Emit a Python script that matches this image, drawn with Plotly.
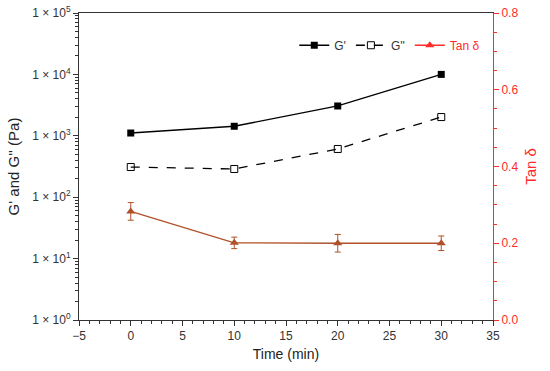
import plotly.graph_objects as go

time = [0, 10, 20, 30]
g_storage = [1110, 1430, 3060, 10000]
g_loss = [310, 288, 610, 2020]
tan_delta = [0.283, 0.201, 0.200, 0.200]
tan_err = [0.023, 0.015, 0.023, 0.019]

left_tickvals = [1, 10, 100, 1000, 10000, 100000]
left_ticktext = ["1 × 10<sup>%d</sup>" % i for i in range(6)]
minor_vals = [k * 10 ** n for n in range(5) for k in range(2, 10)]

brown = "#b0502a"
red = "#ff2a2a"
font = "Liberation Sans, Arial, sans-serif"

fig = go.Figure()
fig.add_trace(go.Scatter(x=time, y=g_storage, name="G'", mode="lines+markers",
                         line=dict(color="black", width=1.3),
                         marker=dict(symbol="square", size=7, color="black")))
fig.add_trace(go.Scatter(x=time, y=g_loss, name="G''", mode="lines+markers",
                         line=dict(color="black", width=1.3, dash="dash"),
                         marker=dict(symbol="square-open", size=7, color="black")))
fig.add_trace(go.Scatter(x=time, y=tan_delta, name="Tan δ", mode="lines+markers",
                         yaxis="y2", showlegend=False,
                         line=dict(color=brown, width=1.3),
                         marker=dict(symbol="triangle-up", size=8, color=brown),
                         error_y=dict(type="data", array=tan_err, color=brown,
                                      thickness=1, width=3)))
fig.add_trace(go.Scatter(x=[None], y=[None], name="<span style='color:%s'>Tan δ</span>" % red,
                         mode="lines+markers", yaxis="y2",
                         line=dict(color=red, width=1.3),
                         marker=dict(symbol="triangle-up", size=8, color=red)))
# invisible trace to host the minor-tick log axis
fig.add_trace(go.Scatter(x=[None], y=[None], yaxis="y3", showlegend=False, hoverinfo="skip"))

fig.update_layout(
    width=550, height=371,
    margin=dict(l=79, r=57, t=13, b=51, autoexpand=False),
    paper_bgcolor="white", plot_bgcolor="white",
    font=dict(family=font, size=12, color="#333"),
    showlegend=True,
    legend=dict(orientation="h", x=0.52, y=0.895, xanchor="left", yanchor="middle",
                bgcolor="rgba(0,0,0,0)", font=dict(size=12, color="#333"),
                itemwidth=30, tracegroupgap=0),
    xaxis=dict(range=[-5, 35], tickvals=[-5, 0, 5, 10, 15, 20, 25, 30, 35],
               showgrid=False, zeroline=False, showline=True, linecolor="#333",
               linewidth=1, mirror=True, ticks="outside", ticklen=5, tickcolor="#333",
               automargin=False,
               minor=dict(dtick=1, ticks="outside", ticklen=3, tickcolor="#333"),
               title=dict(text="Time (min)", font=dict(size=14, color="#222"), standoff=6)),
    yaxis=dict(type="log", range=[0, 5], tickvals=left_tickvals, ticktext=left_ticktext,
               showgrid=False, zeroline=False, showline=True, linecolor="#333",
               linewidth=1, ticks="outside", ticklen=5, tickcolor="#333",
               automargin=False,
               title=dict(text="G' and G'' (Pa)", font=dict(size=15, color="#222"), standoff=8)),
    yaxis3=dict(type="log", range=[0, 5], overlaying="y", side="left", tickvals=minor_vals,
                showticklabels=False, showgrid=False, zeroline=False, showline=False,
                ticks="outside", ticklen=3, tickcolor="#333", automargin=False),
    yaxis2=dict(overlaying="y", side="right", range=[0, 0.8], dtick=0.2, tickformat=".1f",
                showgrid=False, zeroline=False, showline=True, linecolor=red, linewidth=1,
                ticks="outside", ticklen=5, tickcolor=red, tickfont=dict(color=red, size=12),
                automargin=False,
                minor=dict(dtick=0.05, ticks="outside", ticklen=3, tickcolor=red),
                title=dict(text="Tan δ", font=dict(size=15, color=red), standoff=8)),
)

fig.write_html("out.html", config={"displayModeBar": False},
               post_script="document.body.style.margin='0';document.body.style.overflow='hidden';")
